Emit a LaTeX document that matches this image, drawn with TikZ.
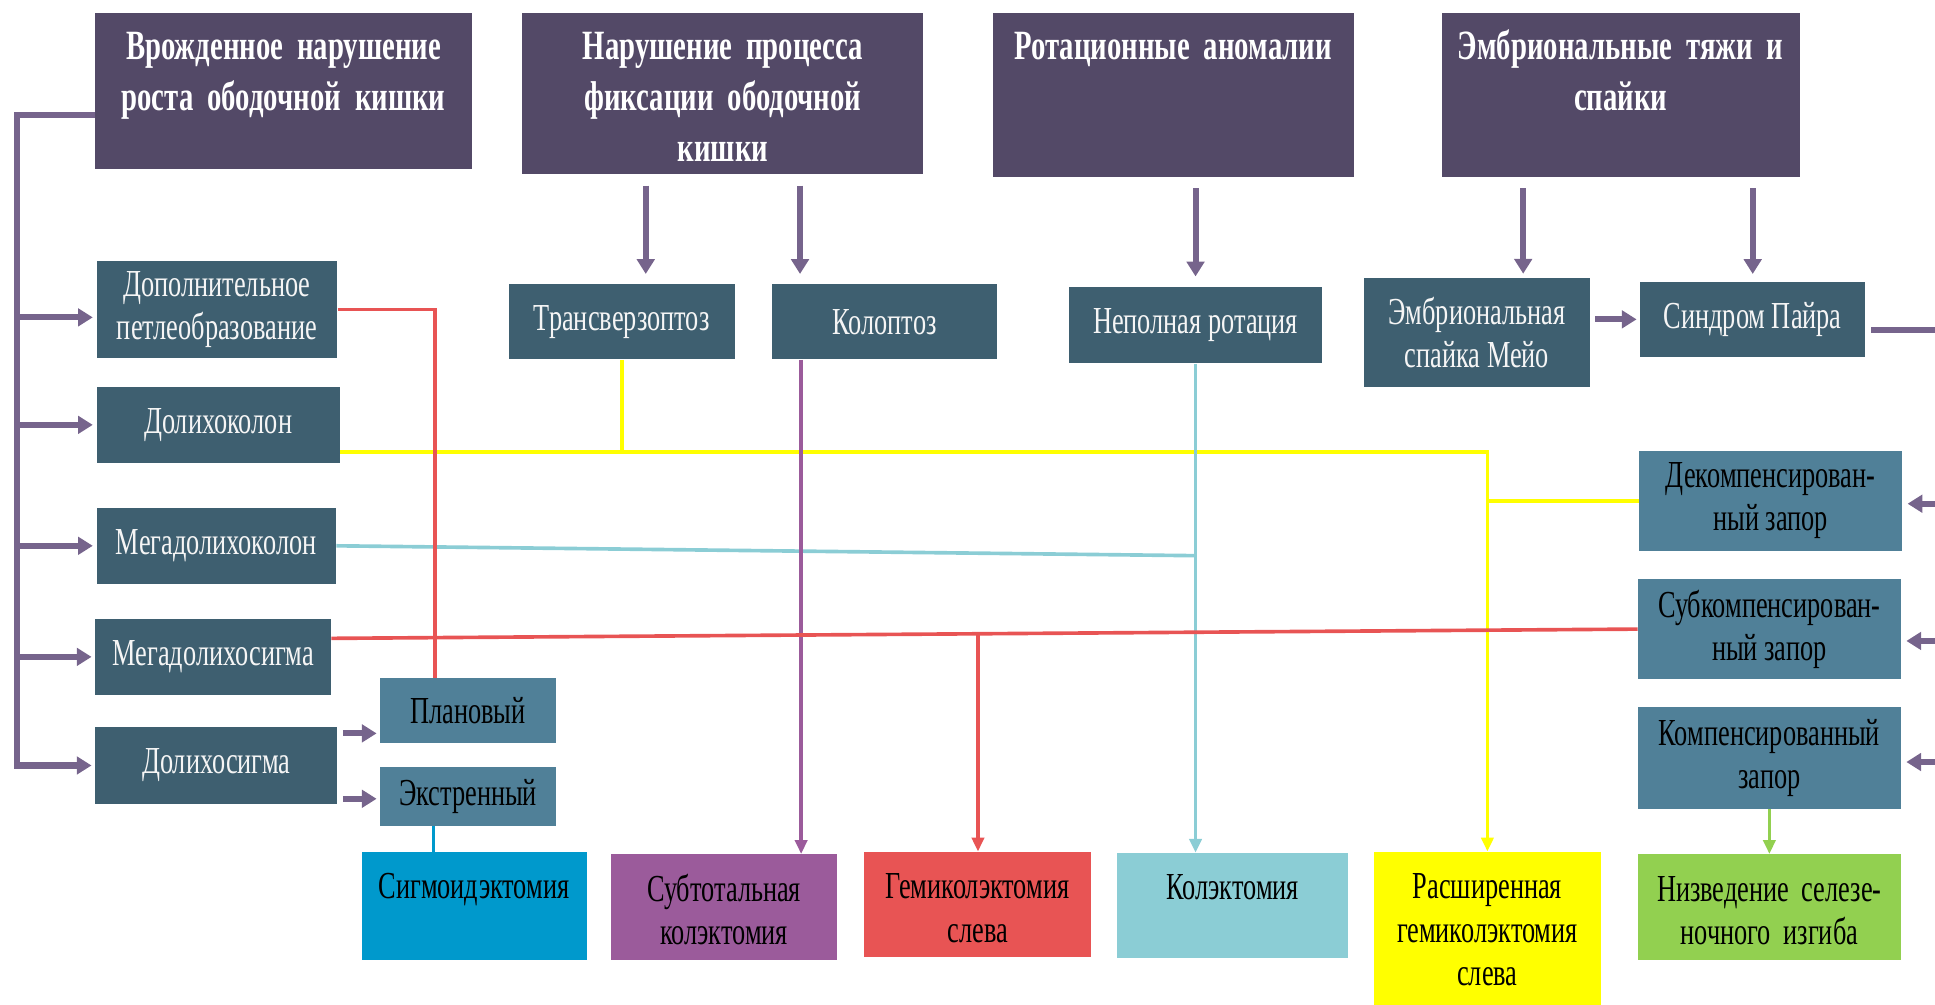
\documentclass[tikz,border=0pt]{standalone}
\usepackage{fontspec}
\setmainfont{Liberation Serif}[FakeStretch=0.69]
\usepackage{tikz}
\usetikzlibrary{arrows.meta}
\definecolor{headPurple}{RGB}{83,73,103}
\definecolor{tealDark}{RGB}{62,95,112}
\definecolor{tealLight}{RGB}{80,128,152}
\definecolor{arrowPurple}{RGB}{118,100,140}
\definecolor{resRed}{RGB}{232,84,84}
\definecolor{resYellow}{RGB}{255,255,0}
\definecolor{resCyan}{RGB}{139,205,213}
\definecolor{resViolet}{RGB}{155,91,155}
\definecolor{resBlue}{RGB}{0,153,204}
\definecolor{resGreen}{RGB}{146,208,80}

\begin{document}
\begin{tikzpicture}[
    head/.style={fill=headPurple, text=white, font=\fontsize{24}{29.5}\selectfont\bfseries,
        inner sep=0pt, align=center, text height=0.95cm, anchor=north west},
    item/.style={fill=tealDark, text=white!92!gray, font=\fontsize{22}{25}\selectfont,
        inner sep=1pt, align=center, anchor=north west},
    litem/.style={item, fill=tealLight, text=black},
    res/.style={text=black, font=\fontsize{22}{25}\selectfont, inner sep=0pt,
        align=center, text height=0.95cm, anchor=north west},
    parrow/.style={draw=arrowPurple, line width=3.5pt, -{Triangle[width=10pt,length=8.5pt]}},
    pline/.style={draw=arrowPurple, line width=3.5pt},
    cline/.style={line width=2.1pt},
    carrow/.style={line width=2.1pt, -{Triangle[width=7pt,length=8pt]}}
]
    \useasboundingbox (0,0) rectangle (39.2,-20.35);
    \coordinate (lb) at (0.35,0);
    \coordinate (redge) at (39.2,0);

    % Группы аномалий
    \node[head, text width=7.625cm, text depth=2.225cm] (b1) at (1.925,-0.25) {Врожденное нарушение\\роста ободочной кишки};
    \node[head, text width=8.125cm, text depth=2.325cm] (b2) at (10.575,-0.25) {Нарушение процесса\\фиксации ободочной\\кишки};
    \node[head, text width=7.325cm, text depth=2.375cm] (b3) at (20.1,-0.25) {Ротационные аномалии};
    \node[head, text width=7.25cm, text depth=2.375cm] (b4) at (29.2,-0.25) {Эмбриональные тяжи и\\спайки};

    % Формы
    \node[item, minimum width=4.875cm, minimum height=1.975cm] (dop) at (1.95,-5.275) {Дополнительное\\петлеобразование};
    \node[item, minimum width=4.575cm, minimum height=1.525cm] (trans) at (10.3,-5.75) {Трансверзоптоз};
    \node[item, minimum width=4.575cm, minimum height=1.525cm] (kolo) at (15.625,-5.75) {Колоптоз};
    \node[item, minimum width=5.125cm, minimum height=1.55cm] (nepol) at (21.65,-5.8) {Неполная ротация};
    \node[item, minimum width=4.575cm, minimum height=2.2cm] (meyo) at (27.625,-5.625) {Эмбриональная\\спайка Мейо};
    \node[item, minimum width=4.55cm, minimum height=1.525cm] (payr) at (33.225,-5.7) {Синдром Пайра};

    \node[item, minimum width=4.925cm, minimum height=1.55cm] (dolkol) at (1.95,-7.825) {Долихоколон};
    \node[item, minimum width=4.85cm, minimum height=1.55cm] (megkol) at (1.95,-10.275) {Мегадолихоколон};
    \node[item, minimum width=4.775cm, minimum height=1.55cm] (megsig) at (1.925,-12.525) {Мегадолихосигма};
    \node[item, minimum width=4.9cm, minimum height=1.55cm] (dolsig) at (1.925,-14.725) {Долихосигма};
    \node[litem, minimum width=3.55cm, minimum height=1.325cm] (plan) at (7.7,-13.725) {Плановый};
    \node[litem, minimum width=3.55cm, minimum height=1.2cm] (ekstr) at (7.7,-15.525) {Экстренный};

    \node[litem, minimum width=5.325cm, minimum height=2.025cm] (dekomp) at (33.2,-9.125) {Декомпенсирован-\\ный запор};
    \node[litem, minimum width=5.325cm, minimum height=2.025cm] (subkomp) at (33.175,-11.725) {Субкомпенсирован-\\ный запор};
    \node[litem, minimum width=5.325cm, minimum height=2.05cm] (komp) at (33.175,-14.325) {Компенсированный\\запор};

    % Операции
    \node[res, fill=resBlue, text width=4.55cm, text depth=1.25cm] (sigm) at (7.325,-17.25) {Сигмоидэктомия};
    \node[res, fill=resViolet, text width=4.575cm, text depth=1.2cm] (subtot) at (12.375,-17.3) {Субтотальная\\колэктомия};
    \node[res, fill=resRed, text width=4.6cm, text depth=1.175cm] (gemi) at (17.5,-17.25) {Гемиколэктомия\\слева};
    \node[res, fill=resCyan, text width=4.675cm, text depth=1.175cm] (kolekt) at (22.625,-17.275) {Колэктомия};
    \node[res, fill=resYellow, text width=4.6cm, text depth=2.15cm] (rassh) at (27.825,-17.25) {Расширенная\\гемиколэктомия\\слева};
    \node[res, fill=resGreen, text width=5.325cm, text depth=1.2cm] (nizv) at (33.175,-17.3) {Низведение селезе-\\ночного изгиба};

    % Скобка слева
    \draw[parrow, shorten >=2pt] ([yshift=-0.49cm]b1.west) -| (lb |- dolsig.west) -- (dolsig.west);
    \draw[parrow, shorten >=2pt] ([yshift=-0.16cm]dop.west -| lb) -- ([yshift=-0.16cm]dop.west);
    \foreach \n in {dolkol,megkol,megsig}
        \draw[parrow, shorten >=2pt] (lb |- \n.west) -- (\n.west);
    \draw[parrow, shorten <=3pt, shorten >=2pt] ([yshift=0.65cm]dolsig.east) -- ([yshift=0.65cm]dolsig.east -| plan.west);
    \draw[parrow, shorten <=3pt, shorten >=2pt] ([yshift=-0.675cm]dolsig.east) -- ([yshift=-0.675cm]dolsig.east -| ekstr.west);

    % Стрелки от групп
    \draw[parrow, shorten <=0.22cm, shorten >=0.2cm] ([xshift=-1.5625cm]b2.south) -- ([xshift=-1.5625cm]b2.south |- trans.north);
    \draw[parrow, shorten <=0.22cm, shorten >=0.2cm] ([xshift=1.5625cm]b2.south) -- ([xshift=1.5625cm]b2.south |- kolo.north);
    \draw[parrow, shorten <=0.22cm, shorten >=0.2cm] (nepol.north |- b3.south) -- (nepol.north);
    \draw[parrow, shorten <=0.22cm, shorten >=0.08cm] ([xshift=-1.975cm]b4.south) -- ([xshift=-1.975cm]b4.south |- meyo.north);
    \draw[parrow, shorten <=0.22cm, shorten >=0.15cm] (payr.north |- b4.south) -- (payr.north);
    \draw[parrow, shorten <=3pt, shorten >=2pt] (meyo.east |- payr.west) -- (payr.west);

    % Справа, за краем
    \draw[pline, shorten <=0.12cm] ([yshift=-0.21cm]payr.east) -- ([yshift=-0.21cm]payr.east -| redge);
    \draw[parrow, shorten >=3pt] ([yshift=-0.06cm]dekomp.east -| redge) -- ([yshift=-0.06cm]dekomp.east);
    \draw[parrow, shorten >=3pt] ([yshift=-0.24cm]subkomp.east -| redge) -- ([yshift=-0.24cm]subkomp.east);
    \draw[parrow, shorten >=3pt] ([yshift=-0.08cm]komp.east -| redge) -- ([yshift=-0.08cm]komp.east);

    % Цветные линии к операциям
    \coordinate (yj) at ([yshift=-0.55cm]dolkol.east);
    \draw[carrow, resYellow] (yj) -| (rassh.north);
    \draw[cline, resYellow] (trans.south) -- (trans.south |- yj);
    \draw[cline, resYellow] (dekomp.west) -- (dekomp.west -| rassh.north);

    \draw[cline, resCyan] (megkol.east) -- ([yshift=-0.2cm]nepol.south |- megkol.east);
    \draw[carrow, resCyan] (nepol.south) -- (nepol.south |- kolekt.north);

    \draw[carrow, resViolet] ([xshift=-1.69cm]kolo.south) -- ([xshift=-1.69cm]kolo.south |- subtot.north);

    \draw[cline, resRed] (dop.east) -| ([xshift=-0.675cm]plan.north);
    \draw[cline, resRed] ([yshift=0.375cm]megsig.east) -- coordinate[pos=0.495] (rj) (subkomp.west);
    \draw[carrow, resRed] (rj) -- (rj |- gemi.north);

    \draw[cline, resBlue] ([xshift=-0.7cm]ekstr.south) -- ([xshift=-0.7cm]ekstr.south |- sigm.north);
    \draw[carrow, resGreen] (komp.south) -- (nizv.north);
\end{tikzpicture}
\end{document}
